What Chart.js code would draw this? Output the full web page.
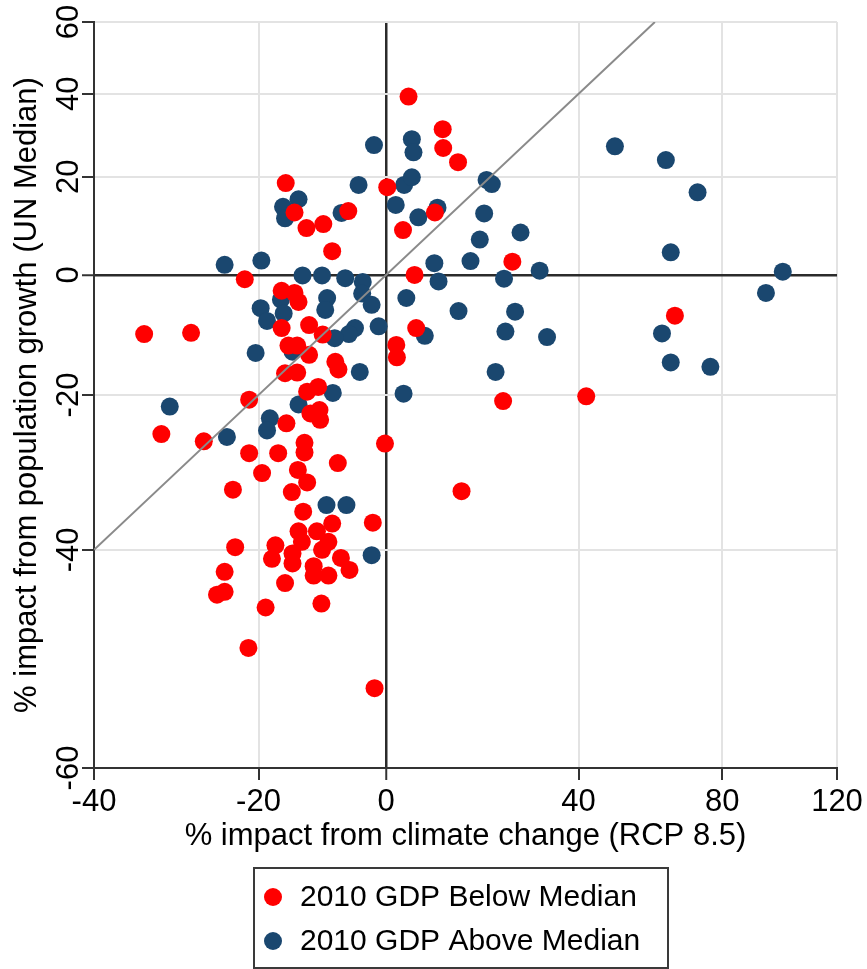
<!DOCTYPE html>
<html>
<head>
<meta charset="utf-8">
<script src="https://cdn.jsdelivr.net/npm/chart.js@4.4.0/dist/chart.umd.min.js"></script>
<style>
html,body{margin:0;padding:0;background:#fff;overflow:hidden}
canvas{display:block}
</style>
</head>
<body>
<canvas id="c" width="867" height="969"></canvas>
<script>
// ---------- data ----------
const xTicks = [-40, -20, 0, 40, 80, 120];
const yTicks = [-60, -40, -20, 0, 20, 40, 60];

const seriesNames = ['2010 GDP Below Median', '2010 GDP Above Median'];
const xTitle = '% impact from climate change (RCP 8.5)';
const yTitle = '% impact from population growth (UN Median)';

const belowX = [4.0, 10.4, 10.5, 13.4, 0.2, -6.4, 3.0, 8.9, -9.0, -10.4, 24.7, 5.1, -16.1, -14.8, -13.0, -21.9, -16.7, -14.8, -14.2, -16.7,
  -12.6, -10.5, -15.7, -14.4, -12.6, -8.5, -8.0, -16.2, -14.4, -12.9, -11.2, -21.3, -12.4, -11.0, -10.9, -16.0, -32.5, -27.3, -34.5, -28.9,
  -13.3, -13.3, -21.3, -17.2, -19.5, -14.3, -12.9, -15.2, -8.1, -23.5, -13.5, -2.3, -0.2, -23.2, -24.6, -25.6, -24.6, -17.6, -18.1, -14.2,
  -13.7, -15.1, -15.1, -11.4, -9.0, -9.6, -10.6, -11.9, -11.9, -9.6, -7.6, -6.2, -16.2, -19.0, -10.7, -21.4, -2.0, 14.1, 41.9, 22.7,
  65.7, 5.4, 1.8, 1.9];
const belowY = [39.3, 31.1, 26.6, 23.3, 17.7, 12.6, 8.7, 12.3, 4.5, 9.9, 2.5, 0.0, 18.6, 12.3, 9.1, -0.8, -2.9, -3.3, -4.9, -9.4,
  -8.9, -10.5, -12.3, -12.3, -13.8, -14.9, -16.1, -16.7, -16.6, -19.5, -18.8, -20.7, -22.7, -22.2, -23.6, -24.1, -25.6, -26.6, -10.4, -10.2,
  -26.8, -28.1, -28.2, -28.2, -30.8, -30.4, -32.0, -33.2, -29.5, -32.9, -35.6, -36.9, -26.9, -39.7, -42.4, -44.8, -44.5, -39.5, -41.0, -37.9,
  -39.1, -40.4, -41.5, -37.9, -37.0, -39.1, -40.0, -41.8, -42.8, -42.8, -40.9, -42.2, -43.6, -46.1, -45.7, -50.0, -53.6, -33.1, -20.2, -20.9,
  -7.3, -9.4, -12.2, -14.2];

const aboveX = [-2.1, 4.6, 4.9, -4.7, 3.2, 4.6, 1.7, 9.4, 5.8, -7.5, 19.2, 20.3, 18.7, 26.5, 17.8, 15.9, 8.8, 9.6, 22.9, 30.8,
  -6.9, -4.0, -4.1, -2.5, 3.6, 13.5, 25.3, 23.2, 32.5, 7.0, -1.3, -5.3, -6.3, -8.6, -4.5, -8.9, 3.1, 21.1, -9.9, -6.7,
  -2.5, 49.2, 63.1, 72.4, 64.5, 100.1, 94.3, 62.0, 64.5, 76.3, -14.2, -16.5, -16.2, -24.6, -19.6, -13.6, -10.6, -9.8, -10.1, -16.8,
  -19.7, -18.8, -16.4, -20.4, -15.1, -14.2, -18.4, -18.8, -31.5, -24.3];
const aboveY = [27.3, 28.7, 25.6, 18.2, 18.2, 19.9, 13.9, 13.3, 11.3, 12.2, 19.3, 18.4, 12.1, 8.2, 6.8, 2.6, 2.2, -1.2, -0.7, 0.8,
  -0.6, -1.3, -3.4, -5.4, -4.2, -6.5, -6.6, -10.0, -10.9, -10.7, -9.1, -9.4, -10.4, -11.1, -16.5, -19.7, -19.8, -16.5, -34.8, -34.8,
  -40.6, 27.0, 23.8, 16.6, 4.3, 0.6, -3.3, -10.3, -15.0, -15.7, 15.1, 13.5, 11.1, 1.9, 2.7, -0.1, -0.1, -4.2, -6.3, -4.5,
  -6.0, -8.2, -6.9, -13.5, -13.3, -21.4, -23.4, -25.1, -21.7, -26.0];

// 45-degree reference line
const diagX = [-40, 60];
const diagY = [-40, 60];

// ---------- custom scale: log(1 + v/100) ----------
const tf = v => Math.log(1 + v / 100);
const tinv = t => 100 * (Math.exp(t) - 1);
const TICKS = { x: xTicks, y: yTicks };

class Log1pScale extends Chart.LinearScale {
  buildTicks() {
    return TICKS[this.id].map(v => ({ value: v }));
  }
  configure() {
    super.configure();
    this._t0 = tf(this.min);
    this._t1 = tf(this.max);
  }
  getPixelForValue(value) {
    if (value === null || value === undefined || isNaN(value)) return NaN;
    return this.getPixelForDecimal((tf(value) - this._t0) / (this._t1 - this._t0));
  }
  getValueForPixel(pixel) {
    const d = this.getDecimalForPixel(pixel);
    return tinv(this._t0 + d * (this._t1 - this._t0));
  }
}
Log1pScale.id = 'log1p';
Log1pScale.defaults = {};
Chart.register(Log1pScale);

const FONT = '"Liberation Sans", Arial, sans-serif';
Chart.defaults.font.family = FONT;
Chart.defaults.color = '#000';

const RED = '#FF0000';
const NAVY = '#1A476F';

const toPts = (xs, ys) => xs.map((x, i) => ({ x: x, y: ys[i] }));

const gridColor = c => (c.tick && c.tick.value === 0) ? '#2b2b2b' : '#e3e3e3';
const gridWidth = c => (c.tick && c.tick.value === 0) ? 2.5 : 2;

const legendBox = {
  id: 'legendBox',
  afterDraw(chart) {
    const ctx = chart.ctx;
    ctx.save();
    ctx.strokeStyle = '#3a3a3a';
    ctx.lineWidth = 2;
    ctx.strokeRect(254, 868, 414, 100);
    ctx.font = '30px ' + FONT;
    ctx.textAlign = 'left';
    ctx.textBaseline = 'middle';
    const items = chart.data.datasets.filter(d => d.inLegend);
    items.forEach((d, i) => {
      const cy = 897 + i * 44;
      ctx.beginPath();
      ctx.arc(273, cy, 9, 0, Math.PI * 2);
      ctx.fillStyle = d.backgroundColor;
      ctx.fill();
      ctx.fillStyle = '#000';
      ctx.fillText(d.label, 300, cy + 1);
    });
    ctx.restore();
  }
};

new Chart(document.getElementById('c'), {
  type: 'scatter',
  data: {
    datasets: [
      {
        label: seriesNames[0], inLegend: true, order: 1,
        data: toPts(belowX, belowY),
        backgroundColor: RED, borderWidth: 0, pointRadius: 9, pointHoverRadius: 9
      },
      {
        label: seriesNames[1], inLegend: true, order: 2,
        data: toPts(aboveX, aboveY),
        backgroundColor: NAVY, borderWidth: 0, pointRadius: 9, pointHoverRadius: 9
      },
      {
        type: 'line', label: '45-degree line', order: 0,
        data: toPts(diagX, diagY),
        borderColor: '#8a8a8a', borderWidth: 2, pointRadius: 0, fill: false, showLine: true
      }
    ]
  },
  options: {
    responsive: false,
    animation: false,
    events: [],
    layout: { padding: { left: 0, right: 30, top: 22, bottom: 102 } },
    plugins: { legend: { display: false }, tooltip: { enabled: false } },
    scales: {
      x: {
        type: 'log1p', position: 'bottom', min: -40, max: 120,
        afterFit: s => { s.height = 99; },
        grid: { color: gridColor, lineWidth: gridWidth, tickLength: 12, tickColor: '#333', tickWidth: 2 },
        border: { display: true, color: '#333', width: 2 },
        ticks: { autoSkip: false, minRotation: 0, maxRotation: 0, padding: 4, color: '#000',
                 font: { size: 31, lineHeight: 1.2 }, callback: v => String(v) },
        title: { display: true, text: xTitle, color: '#000', font: { size: 31, lineHeight: 1.2 },
                 padding: { top: 0, bottom: 12 } }
      },
      y: {
        type: 'log1p', position: 'left', min: -60, max: 60,
        afterFit: s => { s.width = 94; },
        grid: { color: gridColor, lineWidth: gridWidth, tickLength: 12, tickColor: '#333', tickWidth: 2 },
        border: { display: true, color: '#333', width: 2 },
        ticks: { autoSkip: false, minRotation: 90, maxRotation: 90, crossAlign: 'center', padding: -10, color: '#000',
                 font: { size: 31, lineHeight: 1.2 }, callback: v => String(v) },
        title: { display: true, text: yTitle, color: '#000', font: { size: 31, lineHeight: 1.2 },
                 padding: { top: 9, bottom: 0 } }
      }
    }
  },
  plugins: [legendBox]
});
</script>
</body>
</html>
